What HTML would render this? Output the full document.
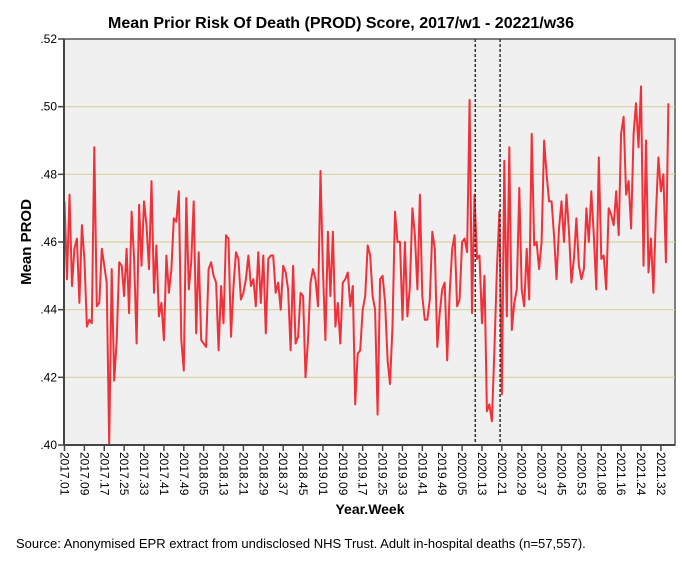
<!DOCTYPE html>
<html><head><meta charset="utf-8"><style>
body{margin:0;background:#fff;}
svg{display:block;font-family:"Liberation Sans",Arial,sans-serif;}
</style></head><body>
<svg id="chart" width="684" height="566">
<rect width="684" height="566" fill="#fff"/>
<text x="341" y="28" text-anchor="middle" font-size="16" font-weight="bold">Mean Prior Risk Of Death (PROD) Score, 2017/w1 - 20221/w36</text>
<rect x="64" y="39" width="611" height="406" fill="#f0f0f0" stroke="#555" stroke-width="1.5"/>
<g id="grid"></g>
<g id="yaxis"></g>
<g id="xaxis"></g>
<g id="marks"></g>
<line x1="64" y1="39" x2="64" y2="445" stroke="#444" stroke-width="2"/>
<line x1="64" y1="445" x2="675" y2="445" stroke="#444" stroke-width="2"/>
<text transform="translate(31,242) rotate(-90)" text-anchor="middle" font-size="15" font-weight="bold">Mean PROD</text>
<text x="370" y="514" text-anchor="middle" font-size="14" font-weight="bold">Year.Week</text>
<text x="16" y="548" font-size="13">Source: Anonymised EPR extract from undisclosed NHS Trust. Adult in-hospital deaths (n=57,557).</text>
</svg>
<script>
const values = [
.472,.449,.474,.447,.458,.461,.442,.465,.455,.435,.437,.436,.488,.441,.442,.458,.453,.448,.400,.452,.419,.431,.454,.453,.444,.458,.439,.469,.455,.430,.471,.453,.472,.465,.452,.478,.445,.459,.438,.442,.431,.456,.445,.452,.467,.466,.475,.431,.422,.473,.446,.454,.472,.433,.457,.431,.430,.429,.452,.454,.450,.448,.428,.447,.436,.462,
.461,.432,.447,.457,.455,.443,.445,.449,.456,.447,.449,.441,.457,.442,.456,.433,.455,.456,.456,.445,.448,.440,.453,.451,.446,.428,.453,.430,.432,.445,.444,.420,.431,.448,.452,.449,.441,.481,.452,.431,.463,.444,.463,.435,.442,.430,.448,.449,.451,.441,.447,.412,.427,.428,.440,.444,.459,.456,.444,.440,.409,.449,.450,.442,.425,.418,.435,.469,.460,.460,.437,.460,.438,.447,.470,.462,.446,.474,.444,.437,.437,.443,.463,.458,.429,.439,.446,.448,
.425,.445,.458,.462,.441,.443,.460,.461,.457,.502,.439,.474,.455,.456,.436,.450,.410,.412,.407,.428,.452,.469,.415,.484,.438,.488,.434,.442,.446,.476,.446,.441,.458,.443,.492,.459,.460,.452,.460,.490,.480,.472,.472,.462,.449,.464,.472,.460,.474,.463,.448,.455,.467,.453,.449,.452,.470,.460,.475,.462,.446,.485,.455,.456,.446,.470,.468,.465,.475,.462,.492,.497,.474,.478,.464,.492,.501,.488,.506,.453,.490,.451,.461,.445,.468,.485,.475,.480,.454,.501];
const yTicks = [.40,.42,.44,.46,.48,.50,.52];
const yTickLabels = [".40",".42",".44",".46",".48",".50",".52"];
const xTickIndex = [0,8,16,24,32,40,48,56,64,72,80,88,96,104,112,120,128,136,144,152,160,168,176,184,192,200,208,216,224,232,240];
const xTickLabels = ["2017.01","2017.09","2017.17","2017.25","2017.33","2017.41","2017.49","2018.05","2018.13","2018.21","2018.29","2018.37","2018.45","2019.01","2019.09","2019.17","2019.25","2019.33","2019.41","2019.49","2020.05","2020.13","2020.21","2020.29","2020.37","2020.45","2020.53","2021.08","2021.16","2021.24","2021.32"];
const refLines = [165.3, 175.3];

const NS="http://www.w3.org/2000/svg";
const x = i => 64.5 + i*2.485;
const y = v => 445 - (v-0.40)/0.12*406;
function mk(tag, attrs, parent){const e=document.createElementNS(NS,tag);for(const k in attrs)e.setAttribute(k,attrs[k]);document.getElementById(parent).appendChild(e);return e;}

yTicks.forEach((v,i)=>{
  if(v>0.40 && v<0.52){
    const g=mk('line',{x1:64,x2:675,y1:y(v),y2:y(v),stroke:'#d8d0a0','stroke-width':1.2},'grid');
    
    
  }
  const t=mk('line',{x1:58,x2:64,y1:y(v),y2:y(v),stroke:'#444','stroke-width':1.5},'yaxis');
  
  
  const l=mk('text',{x:57,y:y(v)+4,'text-anchor':'end','font-size':12},'yaxis');
  l.textContent=yTickLabels[i];
  
  
});
xTickIndex.forEach((w,i)=>{
  const t=mk('line',{x1:x(w),x2:x(w),y1:445,y2:451,stroke:'#444','stroke-width':1.5},'xaxis');
  
  
  const l=mk('text',{transform:`translate(${x(w)-4},452) rotate(90)`,'font-size':12},'xaxis');
  l.textContent=xTickLabels[i];
  
  
});
const pts=values.map((v,i)=>`${x(i).toFixed(1)},${Math.max(39,Math.min(445,y(v))).toFixed(1)}`).join(' ');
const p=mk('polyline',{points:pts,fill:'none',stroke:'#f0313a','stroke-width':2,'stroke-linejoin':'round'},'marks');


refLines.forEach(w=>{
  const d=mk('line',{x1:x(w),x2:x(w),y1:39,y2:445,stroke:'#333','stroke-width':1.5,'stroke-dasharray':'3,2'},'marks');
  
  
});
</script>
</body></html>
